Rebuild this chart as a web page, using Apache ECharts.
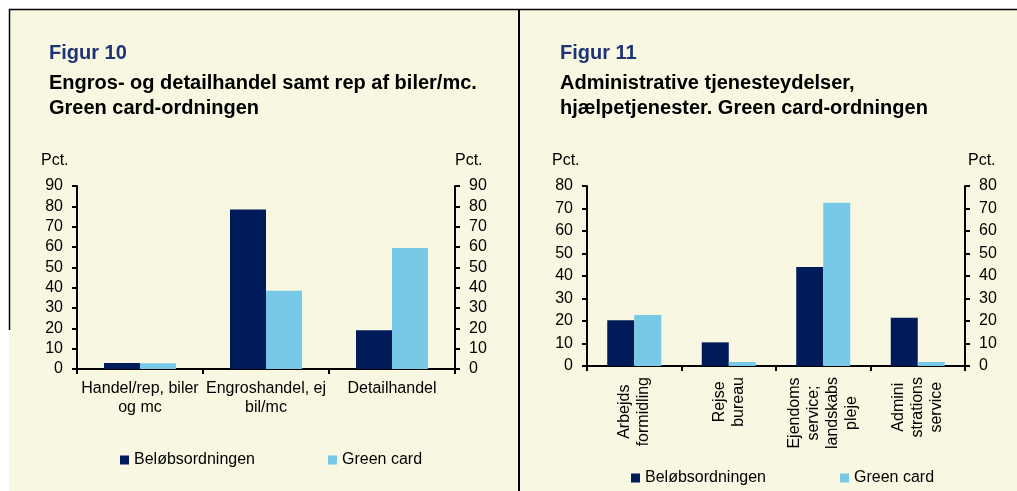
<!DOCTYPE html>
<html>
<head>
<meta charset="utf-8">
<script src="https://cdn.jsdelivr.net/npm/echarts@6/dist/echarts.min.js"></script>
<style>
html,body{margin:0;padding:0;background:#fff;}
#c{width:1017px;height:491px;}
</style>
</head>
<body>
<div id="c"></div>
<script>
// Figure 10 data
const cats10 = ['Handel/rep, biler\nog mc', 'Engroshandel, ej\nbil/mc', 'Detailhandel'];
const belob10 = [3, 78.5, 19];
const green10 = [2.8, 38.5, 59.5];
const yTicks10 = { min: 0, max: 90, interval: 10 };

// Figure 11 data
const cats11 = ['Arbejds\nformidling', 'Rejse\nbureau', 'Ejendoms\nservice;\nlandskabs\npleje', 'Admini\nstrations\nservice'];
const belob11 = [20.3, 10.5, 44, 21.4];
const green11 = [22.7, 1.8, 72.6, 1.8];
const yTicks11 = { min: 0, max: 80, interval: 10 };

const seriesNames = ['Beløbsordningen', 'Green card'];
const titles10 = ['Figur 10', 'Engros- og detailhandel samt rep af biler/mc.', 'Green card-ordningen'];
const titles11 = ['Figur 11', 'Administrative tjenesteydelser,', 'hjælpetjenester. Green card-ordningen'];

const NAVY = '#001A5A';
const LIGHT = '#78C8E8';
const CREAM = '#F8F7E1';
const FONT = 'Liberation Sans, Arial, sans-serif';
const FS = 16;

const chart = echarts.init(document.getElementById('c'), null, { renderer: 'canvas' });

function axisStyle() {
  return {
    axisLine: { show: true, lineStyle: { color: '#000', width: 2 } },
    axisTick: { show: true, length: 5, lineStyle: { color: '#000', width: 2 } },
    splitLine: { show: false }
  };
}
function yAxis(idx, pos, ticks, margin) {
  return Object.assign({
    type: 'value', gridIndex: idx, position: pos,
    min: ticks.min, max: ticks.max, interval: ticks.interval,
    axisLabel: { color: '#000', fontSize: FS, fontFamily: FONT, margin: margin }
  }, axisStyle());
}
function titleTexts(x, lines) {
  return [
    { type: 'text', left: x, top: 43, style: { text: lines[0], fill: '#1F3377', font: 'bold 20px ' + FONT } },
    { type: 'text', left: x, top: 73, style: { text: lines[1], fill: '#000', font: 'bold 20px ' + FONT } },
    { type: 'text', left: x, top: 98, style: { text: lines[2], fill: '#000', font: 'bold 20px ' + FONT } }
  ];
}
function legendItem(left, top, name) {
  return { left: left, top: top, data: [name], itemWidth: 9, itemHeight: 9, icon: 'rect', padding: 0,
    textStyle: { fontSize: FS, color: '#000', fontFamily: FONT } };
}

const option = {
  backgroundColor: '#fff',
  animation: false,
  textStyle: { fontFamily: FONT },
  graphic: [
    { type: 'rect', left: 9, top: 9, shape: { width: 1008, height: 482 }, style: { fill: CREAM }, z: -10 },
    { type: 'line', shape: { x1: 9, y1: 9.5, x2: 1017, y2: 9.5 }, style: { stroke: '#000', lineWidth: 1.5 }, z: -5 },
    { type: 'line', shape: { x1: 9.5, y1: 9, x2: 9.5, y2: 330 }, style: { stroke: '#000', lineWidth: 1.5 }, z: -5 },
    { type: 'line', shape: { x1: 519, y1: 9, x2: 519, y2: 491 }, style: { stroke: '#000', lineWidth: 2 }, z: -5 },
    ...titleTexts(49, titles10),
    ...titleTexts(560, titles11),
    { type: 'text', left: 41, top: 153, style: { text: 'Pct.', fill: '#000', font: FS + 'px ' + FONT } },
    { type: 'text', left: 455, top: 153, style: { text: 'Pct.', fill: '#000', font: FS + 'px ' + FONT } },
    { type: 'text', left: 552, top: 153, style: { text: 'Pct.', fill: '#000', font: FS + 'px ' + FONT } },
    { type: 'text', left: 968, top: 153, style: { text: 'Pct.', fill: '#000', font: FS + 'px ' + FONT } }
  ],
  legend: [
    legendItem(120, 452, seriesNames[0]),
    legendItem(328, 452, seriesNames[1]),
    legendItem(631, 470, seriesNames[0]),
    legendItem(840, 470, seriesNames[1])
  ],
  grid: [
    { left: 77, right: 1017 - 455, top: 186, bottom: 491 - 369, containLabel: false },
    { left: 587, right: 1017 - 965, top: 186, bottom: 491 - 366, containLabel: false }
  ],
  xAxis: [
    Object.assign({
      type: 'category', gridIndex: 0, data: cats10,
      axisLabel: { color: '#000', fontSize: FS, fontFamily: FONT, margin: 10, lineHeight: 19, interval: 0 }
    }, axisStyle()),
    Object.assign({
      type: 'category', gridIndex: 1, data: cats11,
      axisLabel: {
        color: '#000', fontSize: FS, fontFamily: FONT, margin: 11, lineHeight: 19, rotate: 90, interval: 0,
        formatter: function (v) { return v.split('\n').map(function (s) { return '{c|' + s + '}'; }).join('\n'); },
        rich: { c: { align: 'center', fontSize: FS, fontFamily: FONT, color: '#000', lineHeight: 19 } }
      }
    }, axisStyle())
  ],
  yAxis: [
    yAxis(0, 'left', yTicks10, 14),
    yAxis(0, 'right', yTicks10, 14),
    yAxis(1, 'left', yTicks11, 14),
    yAxis(1, 'right', yTicks11, 14)
  ],
  series: [
    { name: seriesNames[0], type: 'bar', xAxisIndex: 0, yAxisIndex: 0, data: belob10, barWidth: 36, barGap: '0%', itemStyle: { color: NAVY } },
    { name: seriesNames[1], type: 'bar', xAxisIndex: 0, yAxisIndex: 0, data: green10, barWidth: 36, barGap: '0%', itemStyle: { color: LIGHT } },
    { name: seriesNames[0], type: 'bar', xAxisIndex: 1, yAxisIndex: 2, data: belob11, barWidth: 27, barGap: '0%', itemStyle: { color: NAVY } },
    { name: seriesNames[1], type: 'bar', xAxisIndex: 1, yAxisIndex: 2, data: green11, barWidth: 27, barGap: '0%', itemStyle: { color: LIGHT } }
  ]
};
chart.setOption(option);
</script>
</body>
</html>
